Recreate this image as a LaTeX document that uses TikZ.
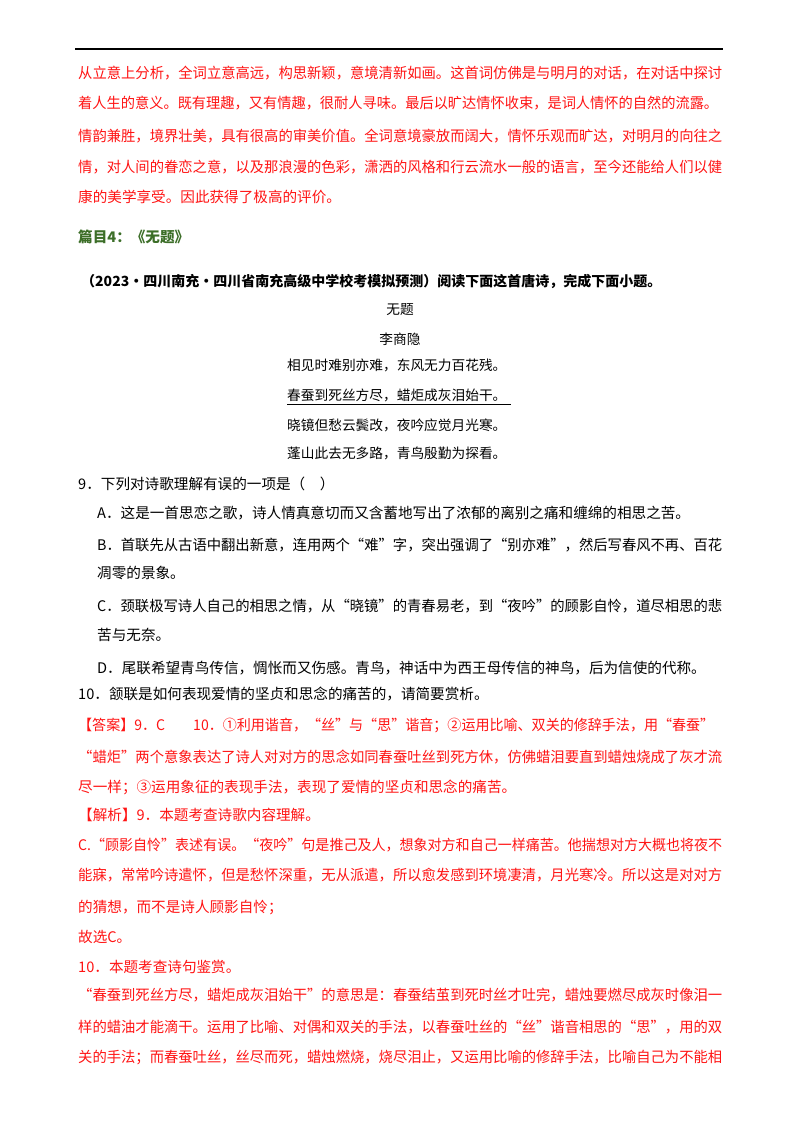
\documentclass[tikz,border=0pt]{standalone}
\usepackage{fontspec}
\usepackage{graphicx}
\setmainfont{Noto Sans CJK SC}
\definecolor{ansred}{RGB}{255,20,20}
\definecolor{hgreen}{RGB}{60,110,40}
\newcommand{\fitw}[2]{\resizebox{#1pt}{\height}{#2}}
\begin{document}
\begin{tikzpicture}[x=1pt,y=-1pt,
  tx/.style={anchor=base west,inner sep=0pt,font=\fontsize{14.6}{14.6}\selectfont},
  rd/.style={tx,text=ansred},
  bk/.style={tx,text=black},
  pm/.style={anchor=base west,inner sep=0pt,font=\fontsize{13.7}{13.7}\selectfont,text=black}]
\useasboundingbox[fill=white] (0,0) rectangle (800,1132);
\draw[line width=1.6pt] (75,49) -- (723,49);
\node[rd] (r1) at (78,78) {\fitw{644}{从立意上分析，全词立意高远，构思新颖，意境清新如画。这首词仿佛是与明月的对话，在对话中探讨}};
\node[rd] (r2) at (78,108) {\fitw{640}{着人生的意义。既有理趣，又有情趣，很耐人寻味。最后以旷达情怀收束，是词人情怀的自然的流露。}};
\node[rd] (r3) at (78,141) {\fitw{644}{情韵兼胜，境界壮美，具有很高的审美价值。全词意境豪放而阔大，情怀乐观而旷达，对明月的向往之}};
\node[rd] (r4) at (78,172) {\fitw{644}{情，对人间的眷恋之意，以及那浪漫的色彩，潇洒的风格和行云流水一般的语言，至今还能给人们以健}};
\node[rd] (r5) at (78,202) {康的美学享受。因此获得了极高的评价。};
\node[tx,text=hgreen,font=\fontsize{14.6}{14.6}\selectfont\bfseries] (h) at (78,242) {篇目4：《无题》};
\node[bk,font=\fontsize{14}{14}\selectfont\bfseries] (q) at (81,286) {（2023·四川南充·四川省南充高级中学校考模拟预测）阅读下面这首唐诗，完成下面小题。};
\node[pm,anchor=base] (t1) at (400,314) {无题};
\node[pm,anchor=base] (t2) at (400,344) {李商隐};
\node[pm] (p1) at (287,370) {相见时难别亦难，东风无力百花残。};
\node[pm] (p2) at (287,400) {春蚕到死丝方尽，蜡炬成灰泪始干。};
\draw[line width=0.6pt] ([yshift=-3pt]p2.south west) -- ([yshift=-3pt,xshift=4pt]p2.south east);
\node[pm] (p3) at (287,430) {晓镜但愁云鬓改，夜吟应觉月光寒。};
\node[pm] (p4) at (287,458) {蓬山此去无多路，青鸟殷勤为探看。};
\node[bk] (q9) at (78,489) {9．下列对诗歌理解有误的一项是（\quad）};
\node[bk] (oa) at (97,518) {A．这是一首思恋之歌，诗人情真意切而又含蓄地写出了浓郁的离别之痛和缠绵的相思之苦。};
\node[bk] (ob) at (97,550) {\fitw{625}{B．首联先从古语中翻出新意，连用两个“难”字，突出强调了“别亦难”，然后写春风不再、百花}};
\node[bk] (ob2) at (97,578) {凋零的景象。};
\node[bk] (oc) at (97,611) {\fitw{625}{C．颈联极写诗人自己的相思之情，从“晓镜”的青春易老，到“夜吟”的顾影自怜，道尽相思的悲}};
\node[bk] (oc2) at (97,640) {苦与无奈。};
\node[bk] (od) at (97,673) {D．尾联希望青鸟传信，惆怅而又伤感。青鸟，神话中为西王母传信的神鸟，后为信使的代称。};
\node[bk] (q10) at (78,699) {10．颔联是如何表现爱情的坚贞和思念的痛苦的，请简要赏析。};
\node[rd] (a1) at (78,730) {\fitw{636}{【答案】9．C\qquad 10．①利用谐音，“丝”与“思”谐音；②运用比喻、双关的修辞手法，用“春蚕”}};
\node[rd] (a2) at (78,762) {\fitw{644}{“蜡炬”两个意象表达了诗人对对方的思念如同春蚕吐丝到死方休，仿佛蜡泪要直到蜡烛烧成了灰才流}};
\node[rd] (a3) at (78,792) {尽一样；③运用象征的表现手法，表现了爱情的坚贞和思念的痛苦。};
\node[rd] (j1) at (78,820) {【解析】9．本题考查诗歌内容理解。};
\node[rd] (j2) at (78,850) {\fitw{644}{C.“顾影自怜”表述有误。“夜吟”句是推己及人，想象对方和自己一样痛苦。他揣想对方大概也将夜不}};
\node[rd] (j3) at (78,880) {\fitw{644}{能寐，常常吟诗遣怀，但是愁怀深重，无从派遣，所以愈发感到环境凄清，月光寒冷。所以这是对对方}};
\node[rd] (j4) at (78,912) {的猜想，而不是诗人顾影自怜；};
\node[rd] (j5) at (78,942) {故选C。};
\node[rd] (j6) at (78,972) {10．本题考查诗句鉴赏。};
\node[rd] (j7) at (78,1000) {\fitw{644}{“春蚕到死丝方尽，蜡炬成灰泪始干”的意思是：春蚕结茧到死时丝才吐完，蜡烛要燃尽成灰时像泪一}};
\node[rd] (j8) at (78,1032) {\fitw{644}{样的蜡油才能滴干。运用了比喻、对偶和双关的手法，以春蚕吐丝的“丝”谐音相思的“思”，用的双}};
\node[rd] (j9) at (78,1062) {\fitw{644}{关的手法；而春蚕吐丝，丝尽而死，蜡烛燃烧，烧尽泪止，又运用比喻的修辞手法，比喻自己为不能相}};
\end{tikzpicture}
\end{document}
